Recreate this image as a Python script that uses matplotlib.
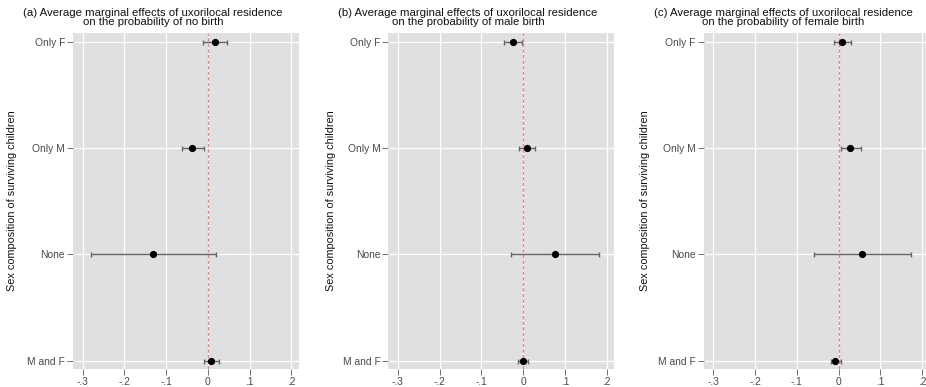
import matplotlib
matplotlib.use("Agg")
import matplotlib.pyplot as plt

plt.rcParams['font.family'] = ['Liberation Sans', 'DejaVu Sans']

categories = ["Only F", "Only M", "None", "M and F"]
titles = ["(a) Average marginal effects of uxorilocal residence\non the probability of no birth",
          "(b) Average marginal effects of uxorilocal residence\non the probability of male birth",
          "(c) Average marginal effects of uxorilocal residence\non the probability of female birth"]

est_a = [0.017, -0.037, -0.132, 0.007]
lo_a = [-0.011, -0.063, -0.281, -0.010]
hi_a = [0.046, -0.010, 0.020, 0.027]

est_b = [-0.025, 0.008, 0.075, -0.001]
lo_b = [-0.045, -0.010, -0.030, -0.013]
hi_b = [-0.002, 0.028, 0.181, 0.012]

est_c = [0.008, 0.028, 0.057, -0.009]
lo_c = [-0.011, 0.006, -0.059, -0.019]
hi_c = [0.029, 0.053, 0.174, 0.005]

xticks = [-0.3, -0.2, -0.1, 0.0, 0.1, 0.2]
xticklabels = ["-.3", "-.2", "-.1", "0", ".1", ".2"]
ylabel = "Sex composition of surviving children"

W, H = 926, 387
fig = plt.figure(figsize=(W / 100, H / 100), dpi=100)

panels = [(est_a, lo_a, hi_a), (est_b, lo_b, hi_b), (est_c, lo_c, hi_c)]
lefts = [73, 388.3, 703.7]
ylab_x = [12, 330.7, 645]
title_x = [153, 468, 783.5]
ax_w = 225.5
ax_top, ax_bot = 33, 369

for i, (est, lo, hi) in enumerate(panels):
    ax = fig.add_axes([lefts[i] / W, 1 - ax_bot / H, ax_w / W, (ax_bot - ax_top) / H])
    ax.set_facecolor('#e0e0e0')
    for s in ax.spines.values():
        s.set_visible(False)
    ypos = list(range(len(categories)))[::-1]
    ax.set_xlim(-0.323, 0.217)
    ax.set_ylim(-0.08, 3.085)
    ax.set_xticks(xticks)
    ax.set_xticklabels(xticklabels)
    ax.set_yticks(ypos)
    ax.set_yticklabels(categories)
    ax.grid(True, color='white', linewidth=0.9)
    ax.set_axisbelow(True)
    ax.tick_params(axis='both', colors='#707070', labelcolor='#4a4a4a', labelsize=7.4,
                   length=4.2, width=0.7, direction='out', pad=1.5)
    ax.axvline(0, color='#e48a8a', linestyle=(0, (2.5, 1.5)), linewidth=1.0, zorder=2)
    xerr = [[e - l for e, l in zip(est, lo)], [h - e for e, h in zip(est, hi)]]
    ax.errorbar(est, ypos, xerr=xerr, fmt='none', ecolor='#666666', elinewidth=1.0,
                capsize=1.8, capthick=1.0, zorder=3)
    ax.plot(est, ypos, 'o', color='black', markersize=4.2, zorder=4)
    fig.text(ylab_x[i] / W, 1 - (ax_top + ax_bot) / 2 / H, ylabel, rotation=90,
             ha='center', va='center', fontsize=7.8, color='#111111')
    fig.text(title_x[i] / W, 1 - 7.5 / H, titles[i], ha='center', va='top',
             fontsize=8.2, color='#111111', linespacing=0.95)

fig.savefig("out.png", dpi=100)
